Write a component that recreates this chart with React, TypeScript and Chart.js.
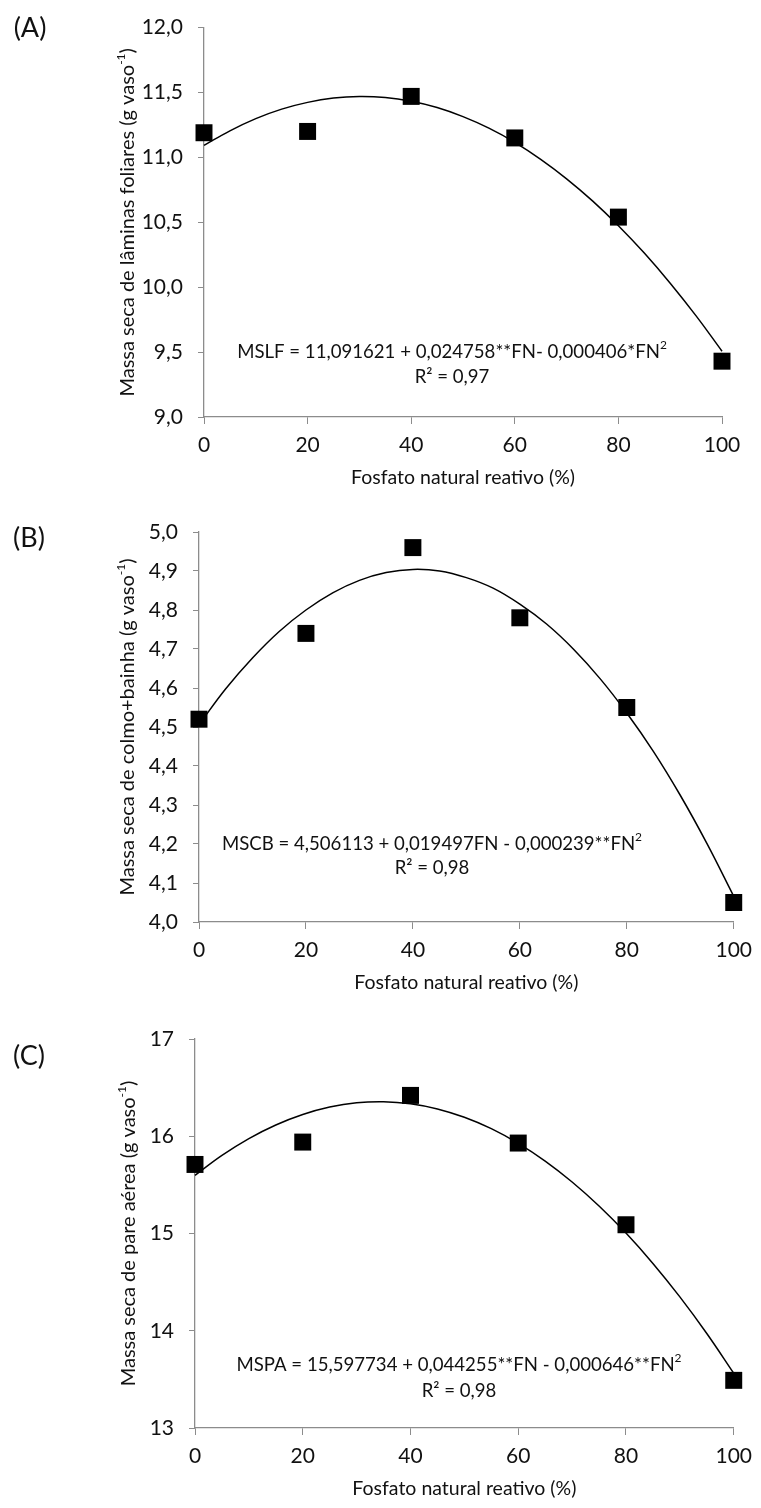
import React, { useEffect, useRef } from "react";
import { Chart, registerables } from "chart.js";

Chart.register(...registerables);

// Doses of reactive natural phosphate (%)
const doses = [0, 20, 40, 60, 80, 100];
const xTicks = [0, 20, 40, 60, 80, 100];

// Observed means per dose
const laminaMeans = [11.19, 11.2, 11.47, 11.15, 10.54, 9.43];
const colmoMeans = [4.52, 4.74, 4.96, 4.78, 4.55, 4.05];
const parteAereaMeans = [15.71, 15.94, 16.42, 15.93, 15.09, 13.49];

// Fitted quadratic curves, sampled every 5 %
const curveDoses = [0, 5, 10, 15, 20, 25, 30, 35, 40, 45, 50, 55, 60, 65, 70, 75, 80, 85, 90, 95, 100];
const laminaCurve = [11.092, 11.205, 11.299, 11.372, 11.424, 11.457, 11.469, 11.461, 11.432, 11.384, 11.314, 11.225, 11.116, 10.985, 10.835, 10.665, 10.474, 10.263, 10.031, 9.779, 9.507];
const colmoCurve = [4.506, 4.598, 4.677, 4.745, 4.8, 4.844, 4.876, 4.896, 4.904, 4.9, 4.883, 4.856, 4.815, 4.764, 4.7, 4.624, 4.536, 4.437, 4.325, 4.201, 4.066];
const parteAereaCurve = [15.598, 15.803, 15.976, 16.116, 16.224, 16.3, 16.344, 16.355, 16.334, 16.281, 16.195, 16.078, 15.927, 15.745, 15.53, 15.283, 15.004, 14.692, 14.348, 13.972, 13.563];

// Y tick values per panel
const laminaTicks = [9, 9.5, 10, 10.5, 11, 11.5, 12];
const colmoTicks = [4, 4.1, 4.2, 4.3, 4.4, 4.5, 4.6, 4.7, 4.8, 4.9, 5];
const parteAereaTicks = [13, 14, 15, 16, 17];

const FONT = "Lato, 'Open Sans', sans-serif";
const AXIS_GRAY = "#8c8c8c";
const TEXT = "#111111";

type Part = [string, boolean];

function drawRich(
  ctx: CanvasRenderingContext2D,
  parts: Part[],
  x: number,
  y: number,
  size: number,
  rotate = false
) {
  const supSize = Math.round(size * 0.62);
  const widths = parts.map(([t, sup]) => {
    ctx.font = `${sup ? supSize : size}px ${FONT}`;
    return ctx.measureText(t).width;
  });
  const total = widths.reduce((a, b) => a + b, 0);
  ctx.save();
  ctx.translate(x, y);
  if (rotate) ctx.rotate(-Math.PI / 2);
  ctx.fillStyle = TEXT;
  ctx.textBaseline = "middle";
  ctx.textAlign = "left";
  let cx = -total / 2;
  parts.forEach(([t, sup], i) => {
    ctx.font = `${sup ? supSize : size}px ${FONT}`;
    ctx.fillText(t, cx, sup ? -size * 0.36 : 0);
    cx += widths[i];
  });
  ctx.restore();
}

interface PanelText {
  letter: string;
  letterX: number;
  letterY: number;
  yTitle: Part[];
  yTitleX: number;
  xTitle: string;
  eq: Part[];
  r2: string;
  eqX: number;
  eqY: number;
  r2Y: number;
}

const panelTextPlugin = {
  id: "panelText",
  afterDraw(chart: any, _args: any, opts: PanelText) {
    const ctx = chart.ctx as CanvasRenderingContext2D;
    const a = chart.chartArea;
    drawRich(ctx, [[opts.letter, false]], opts.letterX, opts.letterY, 27);
    drawRich(ctx, opts.yTitle, opts.yTitleX, (a.top + a.bottom) / 2, 20, true);
    drawRich(ctx, [[opts.xTitle, false]], (a.left + a.right) / 2, a.bottom + 61, 19.5);
    drawRich(ctx, opts.eq, opts.eqX, opts.eqY, 18.6);
    drawRich(ctx, [[opts.r2, false]], opts.eqX, opts.r2Y, 18.6);
  },
};

interface PanelProps {
  top: number;
  height: number;
  means: number[];
  curve: number[];
  yTicks: number[];
  decimals: number;
  plotTop: number;
  plotLeft: number;
  plotRight: number;
  plotBottom: number;
  text: PanelText;
}

function Panel(p: PanelProps) {
  const ref = useRef<HTMLCanvasElement>(null);
  useEffect(() => {
    if (!ref.current) return;
    const width = 761;
    const chart = new Chart(ref.current, {
      type: "scatter",
      data: {
        datasets: [
          {
            data: doses.map((x, i) => ({ x, y: p.means[i] })),
            pointStyle: "rect",
            pointRadius: 12,
            pointHoverRadius: 12,
            backgroundColor: "#000",
            borderColor: "#000",
            borderWidth: 0,
            showLine: false,
            clip: false,
            order: 0,
          },
          {
            data: curveDoses.map((x, i) => ({ x, y: p.curve[i] })),
            showLine: true,
            pointRadius: 0,
            borderColor: "#000",
            borderWidth: 1.5,
            tension: 0.4,
            fill: false,
            clip: false,
            order: 1,
          },
        ],
      },
      options: {
        responsive: false,
        animation: false,
        events: [],
        layout: {
          padding: { top: p.plotTop, right: width - p.plotRight, left: 0, bottom: 0 },
        },
        plugins: {
          legend: { display: false },
          tooltip: { enabled: false },
          panelText: p.text,
        } as any,
        scales: {
          x: {
            type: "linear",
            min: 0,
            max: 100,
            afterBuildTicks: (s: any) => {
              s.ticks = xTicks.map((v) => ({ value: v }));
            },
            afterFit: (s: any) => {
              s.height = p.height - p.plotBottom;
            },
            ticks: {
              color: TEXT,
              font: { family: FONT, size: 21 },
              padding: 9,
              maxRotation: 0,
              callback: (v: any) => String(v),
            },
            grid: {
              drawOnChartArea: false,
              drawTicks: true,
              tickLength: 7,
              color: AXIS_GRAY,
            },
            border: { color: AXIS_GRAY, width: 1.3 },
          },
          y: {
            type: "linear",
            min: p.yTicks[0],
            max: p.yTicks[p.yTicks.length - 1],
            afterBuildTicks: (s: any) => {
              s.ticks = p.yTicks.map((v) => ({ value: v }));
            },
            afterFit: (s: any) => {
              s.width = p.plotLeft;
            },
            ticks: {
              color: TEXT,
              font: { family: FONT, size: 21 },
              padding: 15,
              callback: (v: any) => Number(v).toFixed(p.decimals).replace(".", ","),
            },
            grid: {
              drawOnChartArea: false,
              drawTicks: true,
              tickLength: 6,
              color: AXIS_GRAY,
            },
            border: { color: AXIS_GRAY, width: 1.3 },
          },
        },
      },
      plugins: [panelTextPlugin],
    });
    return () => chart.destroy();
  }, []);
  return (
    <canvas
      ref={ref}
      width={761}
      height={p.height}
      style={{ position: "absolute", left: 0, top: p.top, width: 761, height: p.height }}
    />
  );
}

export default function App() {
  return (
    <div style={{ position: "absolute", left: 0, top: 0, width: 761, height: 1508, background: "#fff" }}>
      <Panel
        top={0}
        height={500}
        means={laminaMeans}
        curve={laminaCurve}
        yTicks={laminaTicks}
        decimals={1}
        plotTop={25}
        plotLeft={204}
        plotRight={722}
        plotBottom={417}
        text={{
          letter: "(A)",
          letterX: 30,
          letterY: 28,
          yTitle: [["Massa seca de lâminas foliares (g vaso", false], ["-1", true], [")", false]],
          yTitleX: 128,
          xTitle: "Fosfato natural reativo (%)",
          eq: [["MSLF = 11,091621 + 0,024758**FN- 0,000406*FN", false], ["2", true]],
          r2: "R² = 0,97",
          eqX: 452,
          eqY: 352,
          r2Y: 377,
        }}
      />
      <Panel
        top={500}
        height={508}
        means={colmoMeans}
        curve={colmoCurve}
        yTicks={colmoTicks}
        decimals={1}
        plotTop={32}
        plotLeft={199}
        plotRight={738}
        plotBottom={422}
        text={{
          letter: "(B)",
          letterX: 29,
          letterY: 38,
          yTitle: [["Massa seca de colmo+bainha (g vaso", false], ["-1", true], [")", false]],
          yTitleX: 128,
          xTitle: "Fosfato natural reativo (%)",
          eq: [["MSCB = 4,506113 + 0,019497FN - 0,000239**FN", false], ["2", true]],
          r2: "R² = 0,98",
          eqX: 432,
          eqY: 344,
          r2Y: 368,
        }}
      />
      <Panel
        top={1008}
        height={500}
        means={parteAereaMeans}
        curve={parteAereaCurve}
        yTicks={parteAereaTicks}
        decimals={0}
        plotTop={31}
        plotLeft={195}
        plotRight={735}
        plotBottom={420}
        text={{
          letter: "(C)",
          letterX: 29,
          letterY: 48,
          yTitle: [["Massa seca de pare aérea (g vaso", false], ["-1", true], [")", false]],
          yTitleX: 129,
          xTitle: "Fosfato natural reativo (%)",
          eq: [["MSPA = 15,597734 + 0,044255**FN - 0,000646**FN", false], ["2", true]],
          r2: "R² = 0,98",
          eqX: 459,
          eqY: 357,
          r2Y: 383,
        }}
      />
    </div>
  );
}
